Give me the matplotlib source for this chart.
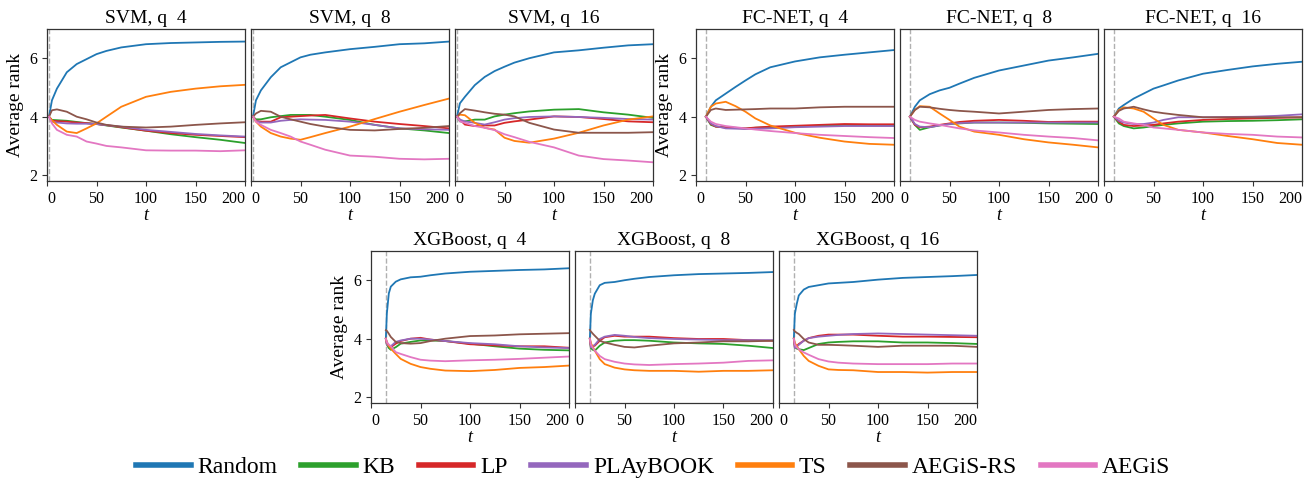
import matplotlib
matplotlib.use("Agg")
import matplotlib.pyplot as plt

plt.rcParams['font.family'] = ['Liberation Serif', 'DejaVu Serif']

methods = ['Random', 'KB', 'LP', 'PLAyBOOK', 'TS', 'AEGiS-RS', 'AEGiS']
colors = ['#1f77b4', '#2ca02c', '#d62728', '#9467bd', '#ff7f0e', '#8c564b', '#e377c2']

# iteration grids (first point = end of initial design, dashed line)
svm_t = [2, 5, 10, 20, 30, 40, 50, 60, 75, 100, 125, 150, 175, 200]
fc_t = [10, 15, 20, 30, 40, 50, 60, 75, 100, 125, 150, 175, 200]
xgb_t = [15, 16, 18, 20, 25, 30, 40, 50, 60, 75, 100, 125, 150, 175, 200]

# average rank curves, order as in `methods`
svm_q4 = [
    [4.0, 4.56, 4.96, 5.52, 5.80, 5.97, 6.14, 6.25, 6.37, 6.48, 6.52, 6.54, 6.56, 6.57],
    [4.0, 3.89, 3.88, 3.86, 3.82, 3.78, 3.75, 3.70, 3.63, 3.52, 3.40, 3.30, 3.21, 3.10],
    [4.0, 3.86, 3.85, 3.83, 3.80, 3.78, 3.75, 3.71, 3.64, 3.52, 3.44, 3.38, 3.34, 3.30],
    [4.0, 3.83, 3.80, 3.77, 3.76, 3.76, 3.75, 3.71, 3.66, 3.55, 3.48, 3.41, 3.36, 3.32],
    [4.0, 3.88, 3.72, 3.49, 3.44, 3.60, 3.77, 4.00, 4.34, 4.68, 4.85, 4.96, 5.04, 5.09],
    [4.0, 4.22, 4.25, 4.17, 4.00, 3.91, 3.80, 3.72, 3.66, 3.63, 3.66, 3.72, 3.77, 3.81],
    [4.0, 3.77, 3.55, 3.38, 3.32, 3.15, 3.08, 3.00, 2.95, 2.85, 2.84, 2.84, 2.82, 2.85],
]
svm_q8 = [
    [4.0, 4.56, 4.90, 5.35, 5.69, 5.86, 6.03, 6.12, 6.20, 6.31, 6.39, 6.48, 6.51, 6.57],
    [4.0, 3.91, 3.91, 3.98, 4.02, 4.06, 4.06, 4.06, 4.00, 3.89, 3.72, 3.60, 3.53, 3.44],
    [4.0, 3.86, 3.83, 3.83, 3.98, 4.00, 4.02, 4.04, 4.06, 3.94, 3.83, 3.75, 3.68, 3.60],
    [4.0, 3.86, 3.80, 3.80, 3.86, 3.89, 3.91, 3.90, 3.89, 3.83, 3.72, 3.60, 3.57, 3.55],
    [4.0, 3.83, 3.66, 3.44, 3.32, 3.25, 3.21, 3.30, 3.44, 3.66, 3.92, 4.17, 4.40, 4.62],
    [4.0, 4.11, 4.20, 4.17, 4.00, 3.91, 3.83, 3.75, 3.66, 3.55, 3.53, 3.58, 3.62, 3.68],
    [4.0, 3.83, 3.72, 3.55, 3.44, 3.32, 3.15, 3.04, 2.87, 2.67, 2.63, 2.56, 2.54, 2.56],
]
svm_q16 = [
    [4.0, 4.46, 4.68, 5.08, 5.36, 5.56, 5.71, 5.85, 6.00, 6.20, 6.27, 6.36, 6.44, 6.48],
    [4.0, 3.84, 3.84, 3.90, 3.90, 4.01, 4.07, 4.12, 4.18, 4.24, 4.26, 4.15, 4.07, 3.96],
    [4.0, 3.90, 3.73, 3.68, 3.70, 3.70, 3.79, 3.84, 3.90, 4.01, 3.99, 3.92, 3.84, 3.81],
    [4.0, 3.90, 3.84, 3.79, 3.73, 3.81, 3.90, 3.95, 3.99, 4.01, 3.99, 3.96, 3.92, 3.90],
    [4.0, 4.07, 4.05, 3.79, 3.62, 3.56, 3.28, 3.17, 3.11, 3.25, 3.45, 3.70, 3.90, 4.01],
    [4.0, 4.12, 4.26, 4.21, 4.15, 4.10, 4.07, 4.01, 3.79, 3.56, 3.45, 3.45, 3.45, 3.47],
    [4.0, 3.84, 3.79, 3.68, 3.62, 3.54, 3.40, 3.30, 3.14, 2.95, 2.67, 2.55, 2.50, 2.44],
]
fc_q4 = [
    [4.0, 4.34, 4.56, 4.79, 5.02, 5.24, 5.45, 5.69, 5.89, 6.03, 6.12, 6.20, 6.28],
    [4.0, 3.72, 3.66, 3.64, 3.62, 3.60, 3.62, 3.64, 3.66, 3.69, 3.72, 3.70, 3.69],
    [4.0, 3.75, 3.66, 3.63, 3.61, 3.60, 3.63, 3.66, 3.69, 3.72, 3.75, 3.74, 3.74],
    [4.0, 3.77, 3.68, 3.60, 3.59, 3.58, 3.59, 3.60, 3.64, 3.66, 3.68, 3.68, 3.68],
    [4.0, 4.34, 4.45, 4.51, 4.36, 4.17, 3.94, 3.70, 3.45, 3.28, 3.15, 3.07, 3.04],
    [4.0, 4.23, 4.28, 4.23, 4.24, 4.25, 4.26, 4.28, 4.28, 4.32, 4.34, 4.34, 4.34],
    [4.0, 3.83, 3.75, 3.68, 3.64, 3.60, 3.56, 3.51, 3.44, 3.38, 3.34, 3.30, 3.27],
]
fc_q8 = [
    [4.0, 4.34, 4.56, 4.77, 4.90, 4.99, 5.13, 5.33, 5.58, 5.75, 5.92, 6.03, 6.15],
    [4.0, 3.72, 3.55, 3.64, 3.70, 3.75, 3.77, 3.80, 3.80, 3.79, 3.77, 3.76, 3.75],
    [4.0, 3.72, 3.64, 3.66, 3.72, 3.77, 3.82, 3.86, 3.89, 3.86, 3.82, 3.83, 3.83],
    [4.0, 3.75, 3.66, 3.64, 3.70, 3.75, 3.78, 3.80, 3.80, 3.80, 3.80, 3.80, 3.80],
    [4.0, 4.23, 4.36, 4.34, 4.11, 3.89, 3.66, 3.49, 3.38, 3.23, 3.12, 3.04, 2.95],
    [4.0, 4.23, 4.34, 4.32, 4.27, 4.23, 4.20, 4.17, 4.11, 4.17, 4.23, 4.26, 4.28],
    [4.0, 3.89, 3.83, 3.77, 3.72, 3.66, 3.60, 3.53, 3.46, 3.38, 3.32, 3.27, 3.19],
]
fc_q16 = [
    [4.0, 4.28, 4.40, 4.62, 4.79, 4.96, 5.07, 5.24, 5.47, 5.60, 5.72, 5.81, 5.88],
    [4.0, 3.77, 3.68, 3.60, 3.63, 3.68, 3.72, 3.77, 3.83, 3.85, 3.86, 3.88, 3.91],
    [4.0, 3.83, 3.72, 3.68, 3.70, 3.72, 3.77, 3.83, 3.89, 3.92, 3.94, 3.96, 3.98],
    [4.0, 3.86, 3.80, 3.75, 3.75, 3.80, 3.89, 3.98, 3.98, 3.99, 4.00, 4.03, 4.08],
    [4.0, 4.23, 4.32, 4.28, 4.17, 3.94, 3.72, 3.55, 3.46, 3.34, 3.23, 3.10, 3.04],
    [4.0, 4.20, 4.28, 4.34, 4.25, 4.17, 4.12, 4.06, 3.98, 3.98, 3.98, 3.98, 3.98],
    [4.0, 3.94, 3.83, 3.77, 3.72, 3.63, 3.60, 3.55, 3.46, 3.41, 3.38, 3.32, 3.29],
]
xgb_q4 = [
    [4.0, 4.86, 5.55, 5.78, 5.95, 6.03, 6.10, 6.12, 6.17, 6.23, 6.29, 6.32, 6.35, 6.37, 6.41],
    [4.0, 3.80, 3.68, 3.62, 3.71, 3.83, 3.89, 3.94, 3.94, 3.92, 3.83, 3.74, 3.66, 3.62, 3.60],
    [4.0, 3.82, 3.74, 3.71, 3.83, 3.92, 4.00, 4.03, 3.97, 3.92, 3.81, 3.77, 3.74, 3.74, 3.69],
    [4.0, 3.80, 3.75, 3.74, 3.89, 3.94, 4.00, 4.00, 3.97, 3.92, 3.85, 3.81, 3.74, 3.70, 3.68],
    [4.0, 3.88, 3.76, 3.66, 3.48, 3.31, 3.14, 3.03, 2.97, 2.91, 2.89, 2.93, 3.00, 3.03, 3.08],
    [4.29, 4.27, 4.17, 4.06, 3.89, 3.85, 3.83, 3.85, 3.92, 4.00, 4.09, 4.11, 4.15, 4.17, 4.19],
    [4.0, 3.88, 3.80, 3.74, 3.54, 3.48, 3.37, 3.28, 3.25, 3.23, 3.26, 3.28, 3.31, 3.35, 3.39],
]
xgb_q8 = [
    [4.0, 4.85, 5.31, 5.54, 5.83, 5.91, 5.94, 6.00, 6.05, 6.11, 6.17, 6.21, 6.23, 6.25, 6.28],
    [4.0, 3.68, 3.62, 3.59, 3.76, 3.87, 3.93, 3.95, 3.95, 3.93, 3.87, 3.84, 3.82, 3.76, 3.68],
    [4.0, 3.72, 3.74, 3.76, 3.93, 4.05, 4.10, 4.07, 4.07, 4.07, 4.02, 3.99, 3.99, 3.95, 3.93],
    [4.0, 3.70, 3.75, 3.79, 3.99, 4.07, 4.13, 4.10, 4.06, 4.02, 3.99, 3.97, 3.95, 3.95, 3.95],
    [4.0, 3.85, 3.72, 3.59, 3.30, 3.13, 3.01, 2.95, 2.92, 2.90, 2.90, 2.87, 2.90, 2.90, 2.92],
    [4.3, 4.25, 4.17, 4.10, 3.93, 3.87, 3.79, 3.72, 3.70, 3.76, 3.84, 3.87, 3.91, 3.91, 3.93],
    [4.0, 3.80, 3.68, 3.59, 3.41, 3.30, 3.21, 3.15, 3.12, 3.10, 3.13, 3.15, 3.18, 3.24, 3.26],
]
xgb_q16 = [
    [4.0, 4.85, 5.20, 5.48, 5.68, 5.77, 5.83, 5.89, 5.91, 5.94, 6.02, 6.08, 6.11, 6.14, 6.18],
    [4.0, 3.70, 3.66, 3.64, 3.61, 3.68, 3.82, 3.87, 3.89, 3.91, 3.91, 3.87, 3.87, 3.85, 3.82],
    [4.0, 3.70, 3.75, 3.82, 3.93, 4.02, 4.10, 4.14, 4.14, 4.14, 4.10, 4.07, 4.07, 4.06, 4.05],
    [4.0, 3.68, 3.73, 3.79, 3.93, 4.02, 4.07, 4.10, 4.13, 4.16, 4.18, 4.16, 4.14, 4.12, 4.10],
    [4.0, 3.85, 3.75, 3.64, 3.41, 3.24, 3.07, 2.95, 2.93, 2.92, 2.86, 2.86, 2.84, 2.86, 2.86],
    [4.3, 4.25, 4.20, 4.16, 3.99, 3.87, 3.79, 3.79, 3.78, 3.76, 3.72, 3.76, 3.76, 3.76, 3.72],
    [4.0, 3.80, 3.70, 3.64, 3.53, 3.45, 3.30, 3.22, 3.18, 3.15, 3.13, 3.13, 3.13, 3.15, 3.15],
]

titles = ['SVM, q  4', 'SVM, q  8', 'SVM, q  16',
          'FC-NET, q  4', 'FC-NET, q  8', 'FC-NET, q  16',
          'XGBoost, q  4', 'XGBoost, q  8', 'XGBoost, q  16']
panels = [(svm_t, svm_q4), (svm_t, svm_q8), (svm_t, svm_q16),
          (fc_t, fc_q4), (fc_t, fc_q8), (fc_t, fc_q16),
          (xgb_t, xgb_q4), (xgb_t, xgb_q8), (xgb_t, xgb_q16)]

W, H = 1312, 483
fig = plt.figure(figsize=(W / 100, H / 100), dpi=100)

# axes boxes in pixels: left, top, right, bottom
boxes = [(47, 29, 245, 181), (251, 29, 449, 181), (455, 29, 653, 181),
         (696, 29, 894, 181), (900, 29, 1098, 181), (1104, 29, 1302, 181),
         (371, 251, 569, 403), (575, 251, 773, 403), (779, 251, 977, 403)]
first_in_group = [0, 3, 6]

for i, ((t, curves), title, box) in enumerate(zip(panels, titles, boxes)):
    x0, y0, x1, y1 = box
    ax = fig.add_axes([x0 / W, 1 - y1 / H, (x1 - x0) / W, (y1 - y0) / H])
    ax.axvline(t[0], color='#b0b0b0', ls='--', lw=1.0, zorder=1)
    for vals, name, c in zip(curves, methods, colors):
        ax.plot(t, vals, color=c, lw=1.3, label=name)
    ax.set_xlim(0, 200)
    ax.set_ylim(1.8, 7.0)
    ax.set_xticks([0, 50, 100, 150, 200])
    ax.set_yticks([2, 4, 6])
    ax.tick_params(labelsize=11.5, length=3.5, width=0.8, color='#333333')
    labels = ax.get_xticklabels()
    labels[0].set_ha('left')
    labels[-1].set_ha('right')
    for s in ax.spines.values():
        s.set_color('#333333')
        s.set_linewidth(0.9)
    ax.set_title(title, fontsize=14, pad=4)
    ax.set_xlabel('t', fontsize=13, style='italic', labelpad=0)
    if i in first_in_group:
        ax.set_ylabel('Average rank', fontsize=14, labelpad=4)
    else:
        ax.tick_params(axis='y', left=False, labelleft=False)

handles = [plt.Line2D([], [], color=c, lw=4) for c in colors]
fig.legend(handles, methods, loc='center', bbox_to_anchor=(0.498, 0.033),
           ncol=7, frameon=False, fontsize=17, handlelength=2.3,
           handletextpad=0.3, columnspacing=1.0, borderpad=0)

fig.savefig('out.png', dpi=100)
